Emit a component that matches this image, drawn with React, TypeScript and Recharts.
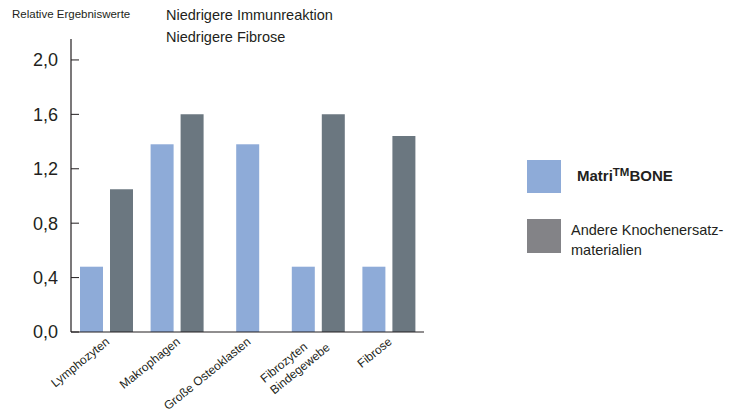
import { BarChart, Bar, XAxis, YAxis, Legend } from 'recharts';

const categories = ['Lymphozyten', 'Makrophagen', 'Große Osteoklasten', 'Fibrozyten\nBindegewebe', 'Fibrose'];
const matriBone = [0.48, 1.38, 1.38, 0.48, 0.48];
const andere = [1.05, 1.6, null, 1.6, 1.44];
const yTicks = [0, 0.4, 0.8, 1.2, 1.6, 2.0];

const data = categories.map((name, i) => ({ name, matri: matriBone[i], andere: andere[i] }));

const BLUE = '#8eabd8';
const GRAY = '#6b7780';
const LEGEND_GRAY = '#838387';
const TEXT = '#231f20';
const FONT = '"Liberation Sans", Arial, Helvetica, sans-serif';
const GAP = 7;

const YTick = (props: any) => {
  const { x, y, payload } = props;
  return (
    <g>
      <line x1={x + 13} x2={x + 21} y1={y} y2={y} stroke={TEXT} strokeWidth={1} />
      <text x={x} y={y} dy="0.36em" textAnchor="end" fontSize={18} fill={TEXT} fontFamily={FONT}>
        {Number(payload.value).toFixed(1).replace('.', ',')}
      </text>
    </g>
  );
};

const XTick = (props: any) => {
  const { x, y, payload } = props;
  const lines = String(payload.value).split('\n');
  return (
    <g transform={`translate(${x + 4},${y + 11}) rotate(-39)`}>
      {lines.length === 1 ? (
        <text x={0} y={0} textAnchor="end" fontSize={12} fill={TEXT} fontFamily={FONT}>
          {lines[0]}
        </text>
      ) : (
        lines.map((l, i) => (
          <text key={i} x={i === 0 ? -14 : 3} y={i === 0 ? -5 : 10} textAnchor="end" fontSize={12} fill={TEXT} fontFamily={FONT}>
            {l}
          </text>
        ))
      )}
    </g>
  );
};

// MatriBONE-Balken mittig setzen, wenn kein Vergleichswert existiert
const MatriShape = (props: any) => {
  const { x, y, width, height, payload } = props;
  const shift = payload.andere == null ? (width + GAP) / 2 : 0;
  return <rect x={x + shift} y={y} width={width} height={height} fill={BLUE} />;
};

const LegendContent = () => (
  <div style={{ fontFamily: FONT, color: TEXT }}>
    <div style={{ position: 'absolute', left: 0, top: 0, width: 34, height: 33, background: BLUE }} />
    <div style={{ position: 'absolute', left: 50, top: 7, fontSize: 15, fontWeight: 'bold', whiteSpace: 'nowrap', lineHeight: '18px' }}>
      Matri<span style={{ fontSize: 11.5, position: 'relative', top: -5 }}>TM</span>BONE
    </div>
    <div style={{ position: 'absolute', left: 0, top: 59, width: 34, height: 34, background: LEGEND_GRAY }} />
    <div style={{ position: 'absolute', left: 44, top: 60, fontSize: 14.5, lineHeight: '20px', whiteSpace: 'nowrap' }}>
      Andere Knochenersatz-
      <br />
      materialien
    </div>
  </div>
);

export default function App() {
  return (
    <div style={{ position: 'absolute', left: 0, top: 0, width: 739, height: 417, background: '#fff', fontFamily: FONT }}>
      <div style={{ position: 'absolute', left: 12, top: 8, fontSize: 11.5, color: TEXT, whiteSpace: 'nowrap' }}>
        Relative Ergebniswerte
      </div>
      <div style={{ position: 'absolute', left: 166, top: 4, fontSize: 14.5, lineHeight: '22px', color: TEXT, whiteSpace: 'nowrap' }}>
        Niedrigere Immunreaktion
        <br />
        Niedrigere Fibrose
      </div>
      <BarChart
        width={739}
        height={417}
        data={data}
        margin={{ top: 39, right: 315, left: 0, bottom: 0 }}
        barGap={GAP}
        style={{ position: 'absolute', left: 0, top: 0 }}
      >
        <XAxis
          dataKey="name"
          height={85}
          interval={0}
          tickLine={false}
          tickSize={0}
          tickMargin={0}
          axisLine={{ stroke: TEXT, strokeWidth: 1.2 }}
          tick={<XTick />}
        />
        <YAxis
          width={71}
          domain={[0, 2.154]}
          ticks={yTicks}
          tickLine={false}
          tickSize={0}
          tickMargin={13}
          axisLine={{ stroke: TEXT, strokeWidth: 1.2 }}
          tick={<YTick />}
        />
        <Legend
          layout="horizontal"
          verticalAlign="middle"
          align="center"
          content={<LegendContent />}
          wrapperStyle={{ position: 'absolute', left: 527, top: 160, width: 212, height: 100 }}
        />
        <Bar dataKey="matri" name="MatriBONE" fill={BLUE} barSize={23} shape={<MatriShape />} isAnimationActive={false} />
        <Bar dataKey="andere" name="Andere Knochenersatzmaterialien" fill={GRAY} barSize={23} isAnimationActive={false} />
      </BarChart>
    </div>
  );
}
